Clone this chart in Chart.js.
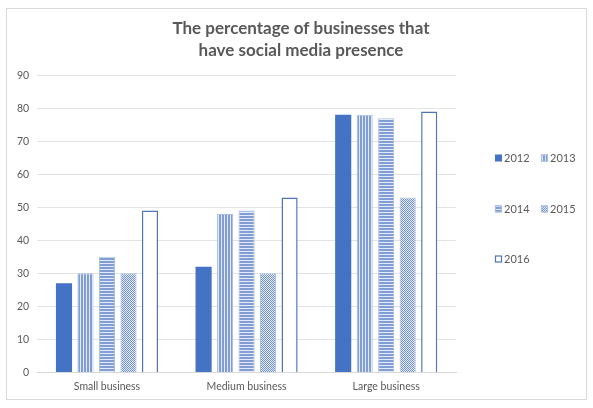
<!DOCTYPE html>
<html>
<head>
<meta charset="utf-8">
<script src="https://cdn.jsdelivr.net/npm/chart.js@4"></script>
<style>
html,body{margin:0;padding:0;background:#fff;}
#wrap{width:593px;height:408px;position:relative;}
</style>
</head>
<body>
<div id="wrap"><canvas id="c" width="593" height="408"></canvas></div>
<script>
const categories = ['Small business', 'Medium business', 'Large business'];
const years = ['2012', '2013', '2014', '2015', '2016'];
const v2012 = [27, 32, 78];
const v2013 = [30, 48, 78];
const v2014 = [35, 49, 77];
const v2015 = [30, 30, 53];
const v2016 = [49, 53, 79];
const yTicks = [0, 10, 20, 30, 40, 50, 60, 70, 80, 90];
const titleLines = ['The percentage of businesses that', 'have social media presence'];

function makePattern(kind) {
  const p = document.createElement('canvas');
  const ctx = p.getContext('2d');
  if (kind === 'vert') {
    p.width = 3; p.height = 3;
    ctx.fillStyle = '#E4EAF6'; ctx.fillRect(0, 0, 3, 3);
    ctx.fillStyle = '#819DD6'; ctx.fillRect(0, 0, 2, 3);
  } else if (kind === 'horiz') {
    p.width = 3; p.height = 3;
    ctx.fillStyle = '#E4EAF6'; ctx.fillRect(0, 0, 3, 3);
    ctx.fillStyle = '#819DD6'; ctx.fillRect(0, 0, 3, 2);
  } else {
    p.width = 2; p.height = 2;
    ctx.fillStyle = '#E8EDF8'; ctx.fillRect(0, 0, 2, 2);
    ctx.fillStyle = '#6F91D0'; ctx.fillRect(0, 0, 1, 1); ctx.fillRect(1, 1, 1, 1);
  }
  return ctx.createPattern(p, 'repeat');
}

const fills = ['#4472C4', makePattern('vert'), makePattern('horiz'), makePattern('dots'), '#ffffff'];
const borders = ['#4472C4', '#A9BDE4', '#A9BDE4', '#A9BDE4', '#4F74BC'];
const borderW = [0, 1, 1, 1, 1.5];
const seriesVals = [v2012, v2013, v2014, v2015, v2016];

const datasets = years.map((y, i) => ({
  label: y,
  data: seriesVals[i],
  backgroundColor: fills[i],
  borderColor: borders[i],
  borderWidth: borderW[i],
  categoryPercentage: 0.77,
  barPercentage: 0.75
}));

const frame = {
  id: 'frame',
  beforeDraw(chart) {
    const ctx = chart.ctx;
    ctx.save();
    ctx.fillStyle = '#fff';
    ctx.fillRect(0, 0, chart.width, chart.height);
    ctx.strokeStyle = '#D9D9D9';
    ctx.lineWidth = 1;
    ctx.strokeRect(6.5, 8.5, 580, 391);
    ctx.restore();
  }
};

const customLegend = {
  id: 'customLegend',
  afterDraw(chart) {
    const ctx = chart.ctx;
    const ca = chart.chartArea;
    ctx.save();
    ctx.font = '11px Lato';
    ctx.textBaseline = 'middle';
    ctx.fillStyle = '#595959';
    const x0 = ca.right + 39;
    const colW = 46;
    const rowY = [158, 209, 259];
    chart.data.datasets.forEach((ds, i) => {
      const col = i % 2, row = Math.floor(i / 2);
      const bx = x0 + col * colW;
      const by = rowY[row];
      ctx.fillStyle = ds.backgroundColor;
      ctx.fillRect(bx, by - 3.5, 7, 7);
      if (ds.borderWidth) {
        ctx.strokeStyle = ds.borderColor;
        ctx.lineWidth = 1.2;
        ctx.strokeRect(bx + 0.5, by - 3, 6, 6);
      }
      ctx.fillStyle = '#595959';
      ctx.fillText(ds.label, bx + 9, by + 0.5);
    });
    ctx.restore();
  }
};

new Chart(document.getElementById('c'), {
  type: 'bar',
  data: { labels: categories, datasets: datasets },
  options: {
    responsive: false,
    animation: false,
    devicePixelRatio: 1,
    layout: { padding: { left: 9, right: 0, top: 8, bottom: 15 } },
    plugins: {
      legend: { display: false },
      tooltip: { enabled: false },
      title: {
        display: true,
        text: titleLines,
        color: '#595959',
        font: { family: 'Lato', size: 17, weight: 'bold', lineHeight: 1.3 },
        padding: { top: 9, bottom: 14 }
      }
    },
    scales: {
      x: {
        grid: { display: false },
        border: { display: true, color: '#D9D9D9' },
        ticks: { color: '#595959', font: { family: 'Lato', size: 10.5 }, padding: 0 }
      },
      y: {
        min: 0, max: 90,
        afterBuildTicks(scale) { scale.ticks = yTicks.map(v => ({ value: v })); },
        grid: { color: '#E3E3E3', drawTicks: false },
        border: { display: false },
        ticks: { color: '#595959', font: { family: 'Lato', size: 10.5 }, padding: 8 }
      },
      yR: {
        position: 'right',
        display: true,
        grid: { display: false },
        border: { display: false },
        ticks: { display: false },
        afterFit(scale) { scale.width = 137; }
      }
    }
  },
  plugins: [frame, customLegend]
});
</script>
</body>
</html>
